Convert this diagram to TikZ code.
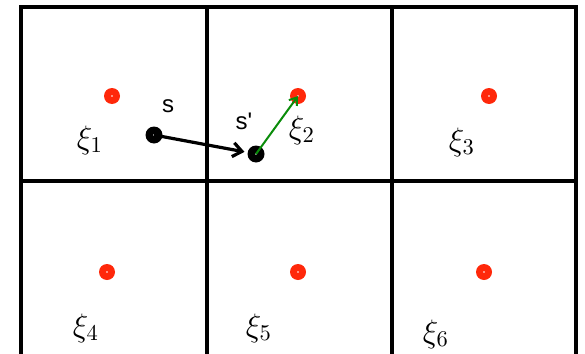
\documentclass[tikz,border=0pt]{standalone}
\usepackage{fontspec}
\usepackage{graphicx}
\newfontfamily\labelfont{Liberation Sans}
\usetikzlibrary{arrows.meta}
\definecolor{dotred}{RGB}{255,40,10}
\definecolor{arrowgreen}{RGB}{10,140,10}
\newcommand\xilab[1]{\scalebox{2.25}{\Large$\xi_{#1}$}}
\tikzset{
  gridline/.style={line width=4pt, black},
  center/.style={circle, fill=dotred, inner sep=0pt, minimum size=16pt},
  state/.style={circle, fill=black, inner sep=0pt, minimum size=17pt},
  pip/.style={circle, fill=white, inner sep=0pt, minimum size=1.6pt},
  xilabel/.style={inner sep=0pt},
  slabel/.style={inner sep=0pt, font=\labelfont\fontsize{24}{28}\selectfont},
  move/.style={line width=3.2pt, -{Straight Barb[length=9pt,width=14pt,line width=3.2pt]}, shorten >=3pt},
  pull/.style={line width=2pt, arrowgreen, -{Straight Barb[length=7pt,width=10pt,line width=2pt]}},
}
\begin{document}
\begin{tikzpicture}[x=1pt,y=-1pt]
\useasboundingbox (0,0) rectangle (585,353);
% grid
\draw[gridline] (21,360) -- (21,7) -- (576,7) -- (576,360);
\draw[gridline] (207,7) -- (207,360);
\draw[gridline] (392,7) -- (392,360);
\draw[gridline] (21,181) -- (576,181);
% centres
\node[center] (c1) at (112,96) {};
\node[center] (c2) at (298,96) {};
\node[center] (c3) at (489,96) {};
\node[center] (c4) at (107,272) {};
\node[center] (c5) at (298,272) {};
\node[center] (c6) at (484,272) {};
\foreach \i in {1,...,6} { \node[pip] at (c\i) {}; }
% states
\node[state] (s) at (154,135) {};
\node[state] (sp) at (256,154) {};
\node[pip] at (s) {};
\node[pip] at (sp) {};
\draw[move] (s.center) -- (sp);
\draw[pull] (sp.center) -- (c2.center);
% labels
\node[slabel] (ls) at (168,106) {s};
\node[slabel] (lsp) at (244,121) {s'};
\node[xilabel] (x1) at (90,140) {\xilab{1}};
\node[xilabel] (x2) at (302,130) {\xilab{2}};
\node[xilabel] (x3) at (462,142) {\xilab{3}};
\node[xilabel] (x4) at (86,328) {\xilab{4}};
\node[xilabel] (x5) at (259,328) {\xilab{5}};
\node[xilabel] (x6) at (436,334) {\xilab{6}};
\end{tikzpicture}
\end{document}
